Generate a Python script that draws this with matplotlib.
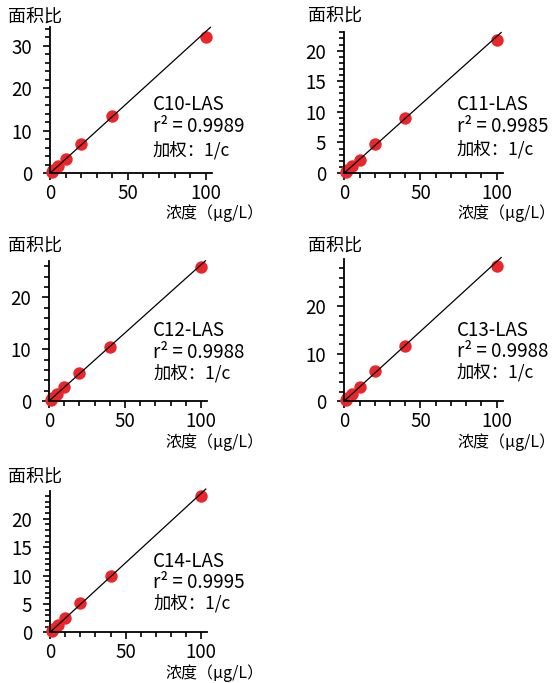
import numpy as np
import matplotlib
matplotlib.use('Agg')
import matplotlib.pyplot as plt
from matplotlib.ticker import MultipleLocator

plt.rcParams['font.family'] = ['Noto Sans CJK SC', 'DejaVu Sans']

W, H = 558, 683

# данные
conc = [1, 2, 5, 10, 20, 40, 100]
names = ['C10-LAS', 'C11-LAS', 'C12-LAS', 'C13-LAS', 'C14-LAS']
r2_vals = ['0.9989', '0.9985', '0.9988', '0.9988', '0.9995']
ratio_c10 = [0.33, 0.68, 1.65, 3.4, 6.8, 13.5, 32.0]
ratio_c11 = [0.22, 0.45, 1.12, 2.2, 4.7, 9.0, 21.7]
ratio_c12 = [0.27, 0.54, 1.35, 2.7, 5.5, 10.5, 25.8]
ratio_c13 = [0.29, 0.60, 1.50, 2.85, 6.3, 11.6, 28.5]
ratio_c14 = [0.24, 0.50, 1.25, 2.5, 5.1, 10.0, 24.1]
ratios = [ratio_c10, ratio_c11, ratio_c12, ratio_c13, ratio_c14]
slopes = [0.333, 0.223, 0.263, 0.294, 0.245]
line_end = 103

# геометрия панелей в пикселях: left, right, bottom, top, ymax, major, minor
panels = [
    (50, 212, 173.3, 27.3, 34.3, 10, 2),
    (344.3, 502.7, 173, 32.3, 23.0, 5, 1),
    (49, 207, 401, 260.7, 27.1, 10, 2),
    (344.3, 502.7, 401, 259.3, 29.9, 10, 2),
    (50, 207.3, 632.3, 491, 24.9, 5, 1),
]
# положение подписей
text_pos = [(153, 104, 150), (456.7, 104.3, 149.3), (153.3, 331, 373),
            (456.7, 330, 372.7), (153.3, 561.7, 603.3)]
ylab_pos = [(8, 17), (308, 16), (8, 246), (308, 246), (8, 477)]
# правый край подписи оси x
xlab_pos = [(264, 213), (556, 213), (264, 442), (556, 442), (264, 673)]

fig = plt.figure(figsize=(W / 100, H / 100), dpi=100)

def fx(px):
    return px / W

def fy(py):
    return 1 - py / H

for i in range(5):
    left, right, bottom, top, ymax, major, minor = panels[i]
    ax = fig.add_axes([fx(left), fy(bottom), (right - left) / W, (bottom - top) / H])
    ax.patch.set_alpha(0)
    ax.scatter(conc, ratios[i], s=80, color='#e8262b', zorder=2, clip_on=False,
               linewidths=0)
    xl = np.array([0, line_end])
    ax.plot(xl, slopes[i] * xl, color='black', lw=0.9, zorder=3, clip_on=False)
    ax.set_xlim(0, 104)
    ax.set_ylim(0, ymax)
    ax.xaxis.set_major_locator(MultipleLocator(50))
    ax.xaxis.set_minor_locator(MultipleLocator(10))
    ax.yaxis.set_major_locator(MultipleLocator(major))
    ax.yaxis.set_minor_locator(MultipleLocator(minor))
    for s in ['top', 'right']:
        ax.spines[s].set_visible(False)
    for s in ['left', 'bottom']:
        ax.spines[s].set_linewidth(1.3)
    ax.tick_params(which='major', length=5, width=1.2, labelsize=13.5, pad=2)
    ax.tick_params(which='minor', length=3.5, width=1.2)
    ax.tick_params(axis='y', which='major', pad=8)

    tx, ty1, ty3 = text_pos[i]
    ty2 = (ty1 + ty3) / 2
    fig.text(fx(tx), fy(ty1), names[i], fontsize=13.5, va='center', ha='left')
    fig.text(fx(tx), fy(ty2), 'r² = ' + r2_vals[i], fontsize=13.5, va='center', ha='left')
    fig.text(fx(tx), fy(ty3), '加权：1/c', fontsize=12.5, va='center', ha='left')
    fig.text(fx(ylab_pos[i][0]), fy(ylab_pos[i][1]), '面积比', fontsize=13,
             va='center', ha='left')
    fig.text(fx(xlab_pos[i][0]), fy(xlab_pos[i][1]), '浓度（μg/L）', fontsize=11.5,
             va='center', ha='right')

fig.savefig('out.png', dpi=100)
